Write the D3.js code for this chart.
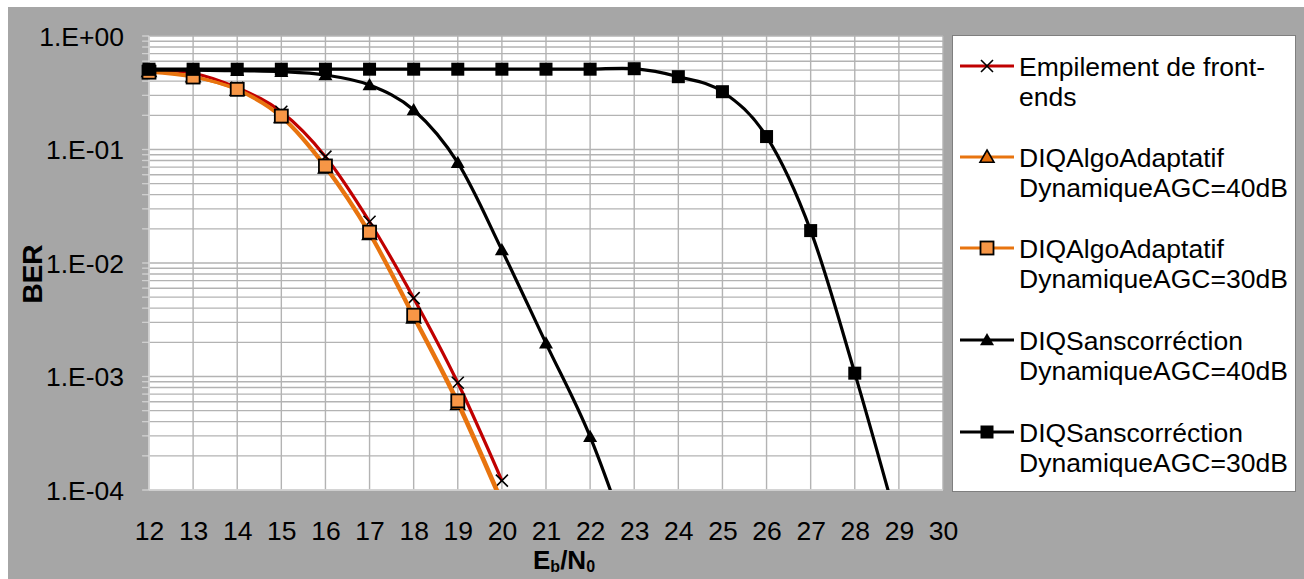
<!DOCTYPE html>
<html><head><meta charset="utf-8">
<script src="https://cdn.jsdelivr.net/npm/d3@7"></script>
<style>
html,body{margin:0;padding:0;background:#fff;}
svg{display:block;font-family:"Liberation Sans",Arial,sans-serif;}
</style></head>
<body><svg id="c" width="1304" height="579"></svg>
<script>
// ---- data ----
const xTickLabels = [12,13,14,15,16,17,18,19,20,21,22,23,24,25,26,27,28,29,30];
const yTickValues = [1, 1e-1, 1e-2, 1e-3, 1e-4];
const yTickLabels = ["1.E+00","1.E-01","1.E-02","1.E-03","1.E-04"];

const ebEmp = [12,13,14,15,16,17,18,19,20];
const berEmp = [0.5,0.47,0.35,0.215,0.0865,0.0231,0.0049,0.00088,0.000121];

const ebAd40 = [12,13,14,15,16,17,18,19,20];
const berAd40 = [0.49,0.44,0.335,0.193,0.069,0.0179,0.0033,0.00057,0.000075];

const ebAd30 = [12,13,14,15,16,17,18,19,20];
const berAd30 = [0.48,0.435,0.339,0.197,0.0716,0.0187,0.00347,0.00061,0.000081];

const ebS40 = [12,13,14,15,16,17,18,19,20,21,22,23];
const berS40 = [0.5,0.5,0.494,0.485,0.453,0.37,0.223,0.0765,0.013,0.00196,0.000295,0.000025];

const ebS30 = [12,13,14,15,16,17,18,19,20,21,22,23,24,25,26,27,28,29];
const berS30 = [0.51,0.51,0.51,0.51,0.51,0.51,0.51,0.51,0.51,0.51,0.51,0.515,0.438,0.323,0.13,0.0193,0.00107,0.000045];

const seriesNames = [
  ["Empilement de front-","ends"],
  ["DIQAlgoAdaptatif","DynamiqueAGC=40dB"],
  ["DIQAlgoAdaptatif","DynamiqueAGC=30dB"],
  ["DIQSanscorréction","DynamiqueAGC=40dB"],
  ["DIQSanscorréction","DynamiqueAGC=30dB"]
];

// ---- layout ----
const svg = d3.select("#c");
const W = 1304, H = 579;
const P = {l:149, r:943, t:36, b:490};

svg.append("rect").attr("x",8).attr("y",7).attr("width",W-8).attr("height",H-7).attr("fill","#a6a6a6");
svg.append("rect").attr("x",P.l).attr("y",P.t).attr("width",P.r-P.l).attr("height",P.b-P.t).attr("fill","#fff");

const x = d3.scaleLinear().domain([12,30]).range([P.l,P.r]);
const y = d3.scaleLog().domain([1e-4,1]).range([P.b,P.t]);

// grid
const minor = [];
[1e-4,1e-3,1e-2,1e-1].forEach(d=>{ for(let k=1;k<10;k++) minor.push(d*k); });
minor.push(1);
const g = svg.append("g");
g.selectAll(".hg").data(minor).join("line")
  .attr("x1",P.l-6).attr("x2",P.r).attr("y1",d=>y(d)).attr("y2",d=>y(d))
  .attr("stroke","#b3b3b3").attr("stroke-width",1.4);
g.selectAll(".vg").data(xTickLabels).join("line")
  .attr("x1",d=>x(d)).attr("x2",d=>x(d)).attr("y1",P.t).attr("y2",P.b)
  .attr("stroke","#b3b3b3").attr("stroke-width",1.4);
g.selectAll(".tk").data(minor).join("line")
  .attr("x1",P.l-7).attr("x2",P.l).attr("y1",d=>y(d)).attr("y2",d=>y(d))
  .attr("stroke","#d0d0d0").attr("stroke-width",1.2);
g.append("line").attr("x1",P.l).attr("x2",P.l).attr("y1",P.t).attr("y2",P.b).attr("stroke","#d8d8d8").attr("stroke-width",1.5);
g.append("line").attr("x1",P.l).attr("x2",P.r).attr("y1",P.b).attr("y2",P.b).attr("stroke","#d8d8d8").attr("stroke-width",1.5);

// axes labels
const yAxis = d3.axisLeft(y).tickValues(yTickValues).tickFormat((d,i)=>yTickLabels[i]).tickSize(0).tickPadding(25);
const ya = svg.append("g").attr("transform",`translate(${P.l},0)`).call(yAxis);
ya.select(".domain").remove();
ya.selectAll("text").attr("font-size",26.5).attr("fill","#000").attr("font-family","Liberation Sans, Arial, sans-serif").attr("dy","0.35em");

const xAxis = d3.axisBottom(x).tickValues(xTickLabels).tickFormat(d3.format("d")).tickSize(0).tickPadding(31);
const xa = svg.append("g").attr("transform",`translate(0,${P.b})`).call(xAxis);
xa.select(".domain").remove();
xa.selectAll("text").attr("font-size",26.5).attr("fill","#000").attr("font-family","Liberation Sans, Arial, sans-serif");

svg.append("text").attr("transform","translate(42,274) rotate(-90)").attr("text-anchor","middle")
  .attr("font-size",28).attr("font-weight","bold").text("BER");

const xl = svg.append("text").attr("x",533).attr("y",569).attr("font-size",26).attr("font-weight","bold");
xl.append("tspan").text("E");
xl.append("tspan").attr("font-size",16).attr("dy",3).text("b");
xl.append("tspan").attr("dy",-3).text("/N");
xl.append("tspan").attr("font-size",16).attr("dy",3).text("0");

// series
const clip = svg.append("clipPath").attr("id","pc").append("rect")
  .attr("x",P.l).attr("y",P.t).attr("width",P.r-P.l).attr("height",P.b-P.t);

const line = d3.line().x(d=>x(d[0])).y(d=>y(d[1])).curve(d3.curveCatmullRom.alpha(0));

const series = [
  {xs:ebEmp, ys:berEmp, color:"#c00000", marker:"x", fill:"none"},
  {xs:ebAd40, ys:berAd40, color:"#e8740f", marker:"tri", fill:"#e36c09"},
  {xs:ebAd30, ys:berAd30, color:"#e8740f", marker:"sq", fill:"#f79646"},
  {xs:ebS40, ys:berS40, color:"#000", marker:"tri", fill:"#000"},
  {xs:ebS30, ys:berS30, color:"#000", marker:"sq", fill:"#000"}
];

function drawMarker(sel, type, fill, cx, cy, black){
  if(type==="x"){
    const s=6;
    sel.append("path").attr("d",`M${cx-s},${cy-s}L${cx+s},${cy+s}M${cx-s},${cy+s}L${cx+s},${cy-s}`)
      .attr("stroke","#000").attr("stroke-width",1.6).attr("fill","none");
  } else if(type==="sq"){
    const s=6.5;
    sel.append("rect").attr("x",cx-s).attr("y",cy-s).attr("width",2*s).attr("height",2*s)
      .attr("fill",fill).attr("stroke","#000").attr("stroke-width",black?0:1.8);
  } else {
    const s=7;
    sel.append("path").attr("d",`M${cx},${cy-s}L${cx+s},${cy+s*0.75}L${cx-s},${cy+s*0.75}Z`)
      .attr("fill",fill).attr("stroke","#000").attr("stroke-width",black?0:1.6);
  }
}

const sg = svg.append("g");
series.forEach(s=>{
  const pts = s.xs.map((v,i)=>[v,s.ys[i]]);
  const gg = sg.append("g");
  gg.append("path").attr("d",line(pts)).attr("fill","none").attr("stroke",s.color)
    .attr("stroke-width",3.2).attr("clip-path","url(#pc)");
  pts.filter(p=>p[1]>=1e-4 && p[1]<=1).forEach(p=>{
    drawMarker(gg, s.marker, s.fill, x(p[0]), y(p[1]), s.color==="#000");
  });
});

// legend
const L = svg.append("g");
L.append("rect").attr("x",952.5).attr("y",35.5).attr("width",343).attr("height",456)
  .attr("fill","#fff").attr("stroke","#7f7f7f").attr("stroke-width",1);
const legY = [66,157,248,340,432];
series.forEach((s,i)=>{
  const ly = legY[i];
  L.append("line").attr("x1",960).attr("x2",1014).attr("y1",ly).attr("y2",ly)
    .attr("stroke",s.color).attr("stroke-width",3.2);
  drawMarker(L, s.marker, s.fill, 987, ly, s.color==="#000");
  const t = L.append("text").attr("x",1019).attr("y",ly+9.5).attr("font-size",26.5);
  seriesNames[i].forEach((n,j)=>{
    t.append("tspan").attr("x",1019).attr("dy",j===0?0:30).text(n);
  });
});
</script></body></html>
